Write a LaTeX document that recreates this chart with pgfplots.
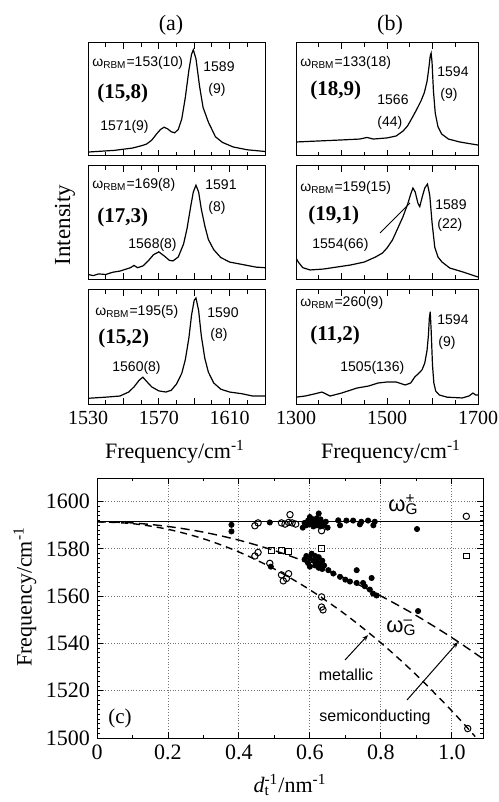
\documentclass[border=0pt]{standalone}
\usepackage{pgfplots}
\pgfplotsset{compat=1.18}
\usepackage{fontspec}
\setmainfont{Liberation Serif}
\newfontfamily\sans{Liberation Sans}
\usetikzlibrary{arrows.meta}
\newcommand\an{\sans\fontsize{7}{8}\selectfont}
\newcommand\ch{\fontsize{10.5}{12}\selectfont\bfseries}
\pgfplotsset{
  spec/.style={scale only axis, anchor=south west, ymin=0, ymax=1, ytick=\empty,
    tick align=inside, xtick pos=both, major tick length=3pt, minor tick length=1.8pt,
    axis line style={line width=0.5pt}, every tick/.style={black, line width=0.5pt},
    tick label style={font=\fontsize{10}{12}\selectfont}, clip=true},
  sa/.style={spec, xmin=1530, xmax=1630, width=88.5pt, xtick={1530,1550,1570,1590,1610,1630}, minor x tick num=1},
  sb/.style={spec, xmin=1300, xmax=1700, width=91pt, xtick={1300,1400,1500,1600,1700}, minor x tick num=1},
  sp/.style={black, line width=0.6pt}
}
\begin{document}
\begin{tikzpicture}
\useasboundingbox (0,0) rectangle (249pt,-401pt);
% ---------- panel (a) ----------
\begin{axis}[sa, at={(44pt,-78pt)}, height=56.5pt, xticklabels={,,,,,}]
\addplot[sp] coordinates {(1530,0.035)(1535,0.04)(1540,0.045)(1545,0.05)(1550,0.06)(1555,0.07)(1560,0.09)(1563,0.105)(1566,0.14)(1569,0.2)(1571,0.235)(1573,0.255)(1575,0.24)(1577,0.215)(1579,0.205)(1581,0.235)(1583,0.33)(1585,0.52)(1587,0.76)(1588.5,0.9)(1589.5,0.94)(1591,0.86)(1593,0.62)(1595,0.43)(1598,0.3)(1602,0.17)(1606,0.12)(1612,0.08)(1620,0.055)(1630,0.04)};
\end{axis}
\begin{axis}[sa, at={(44pt,-139.5pt)}, height=56.5pt, xticklabels={,,,,,}]
\addplot[sp] coordinates {(1530,0.04)(1533,0.03)(1536,0.045)(1540,0.04)(1544,0.06)(1548,0.07)(1551,0.085)(1554,0.1)(1556,0.12)(1558,0.1)(1561,0.115)(1564,0.16)(1567,0.215)(1570,0.24)(1573,0.205)(1576,0.165)(1578,0.16)(1581,0.195)(1584,0.31)(1586,0.45)(1588,0.64)(1589.5,0.77)(1591,0.83)(1592.5,0.77)(1594,0.62)(1596,0.47)(1598,0.35)(1601,0.26)(1605,0.19)(1610,0.15)(1615,0.135)(1620,0.12)(1625,0.105)(1630,0.1)};
\end{axis}
\begin{axis}[sa, at={(44pt,-202pt)}, height=57pt, xticklabels={1530,,1570,,1610,}]
\addplot[sp] coordinates {(1530,0.05)(1535,0.055)(1540,0.06)(1544,0.065)(1548,0.07)(1553,0.105)(1556,0.15)(1559,0.21)(1561,0.235)(1563,0.2)(1566,0.15)(1570,0.115)(1574,0.105)(1577,0.12)(1580,0.175)(1583,0.27)(1585,0.39)(1587,0.58)(1588.5,0.78)(1590,0.91)(1591,0.93)(1592.5,0.82)(1594,0.6)(1596,0.4)(1598,0.28)(1601,0.185)(1605,0.13)(1610,0.105)(1617,0.09)(1623,0.07)(1630,0.07)};
\end{axis}
% ---------- panel (b) ----------
\begin{axis}[sb, at={(148pt,-78pt)}, height=56.5pt, xticklabels={,,,,}]
\addplot[sp] coordinates {(1300,0.124)(1350,0.133)(1400,0.142)(1440,0.15)(1456,0.164)(1470,0.15)(1500,0.16)(1520,0.177)(1535,0.22)(1545,0.265)(1555,0.336)(1565,0.41)(1575,0.49)(1582,0.56)(1588,0.66)(1592,0.78)(1595,0.885)(1597,0.91)(1599,0.83)(1602,0.58)(1606,0.38)(1612,0.26)(1620,0.195)(1635,0.15)(1660,0.124)(1700,0.097)};
\end{axis}
\begin{axis}[sb, at={(148pt,-139.5pt)}, height=56.5pt, xticklabels={,,,,}]
\addplot[sp] coordinates {(1300,0.186)(1305,0.15)(1315,0.1)(1331,0.08)(1360,0.088)(1390,0.106)(1420,0.124)(1450,0.15)(1475,0.195)(1490,0.23)(1500,0.274)(1512,0.345)(1522,0.434)(1535,0.55)(1546,0.67)(1552,0.75)(1557,0.805)(1562,0.77)(1568,0.67)(1572,0.64)(1577,0.72)(1583,0.805)(1589,0.84)(1594,0.74)(1599,0.5)(1605,0.28)(1612,0.195)(1621,0.15)(1638,0.097)(1667,0.062)(1700,0.018)};
\end{axis}
\begin{axis}[sb, at={(148pt,-202pt)}, height=57pt, xticklabels={1300,,1500,,1700}]
\addplot[sp] coordinates {(1300,0.06)(1320,0.07)(1340,0.088)(1357,0.105)(1375,0.07)(1400,0.096)(1434,0.14)(1460,0.158)(1480,0.184)(1500,0.193)(1520,0.193)(1540,0.167)(1552,0.184)(1561,0.237)(1570,0.27)(1577,0.3)(1583,0.36)(1588,0.47)(1591,0.6)(1593,0.75)(1595,0.81)(1597,0.65)(1600,0.34)(1603,0.184)(1607,0.114)(1615,0.079)(1632,0.06)(1665,0.053)(1680,0.07)(1689,0.096)(1695,0.079)(1700,0.079)};
\end{axis}
% ---------- panel (c) ----------
\begin{axis}[scale only axis, anchor=south west, at={(48.5pt,-369pt)}, width=193pt, height=130pt,
  xmin=0, xmax=1.088, ymin=1500, ymax=1610,
  xtick={0,0.2,0.4,0.6,0.8,1.0}, xticklabels={0,0.2,0.4,0.6,0.8,1.0},
  ytick={1500,1520,1540,1560,1580,1600}, yticklabels={1500,1520,1540,1560,1580,1600},
  minor x tick num=1, minor y tick num=9, grid=major,
  grid style={densely dotted, black!55, line width=0.45pt},
  tick align=inside, xtick pos=both, ytick pos=both, major tick length=3pt, minor tick length=1.5pt,
  axis line style={line width=0.5pt}, every tick/.style={black, line width=0.45pt},
  tick label style={font=\fontsize{11}{13}\selectfont}, clip=true]
\addplot[black, line width=0.7pt] coordinates {(0,1591.5)(1.088,1591.5)};
\addplot[black, line width=0.7pt, dash pattern=on 4.5pt off 2.5pt, smooth] coordinates {(0,1591.5)(0.1,1591.0)(0.2,1589.5)(0.3,1587.1)(0.4,1583.7)(0.5,1579.3)(0.6,1573.9)(0.7,1567.5)(0.8,1560.1)(0.9,1551.8)(1.0,1542.5)(1.088,1533.5)};
\addplot[black, line width=0.7pt, dash pattern=on 3.5pt off 2.5pt, smooth] coordinates {(0,1591.5)(0.1,1590.7)(0.2,1588.3)(0.3,1584.3)(0.4,1578.7)(0.5,1571.5)(0.6,1562.7)(0.7,1552.3)(0.8,1540.3)(0.9,1526.7)(1.0,1511.5)(1.066,1500.6)};
\addplot[only marks, mark=*, mark size=1.3pt, black] coordinates {(0.379,1590.2)(0.379,1587.4)(0.487,1591.2)(0.49,1572.5)
(0.585,1591)(0.59,1590)(0.595,1592)(0.60,1590.5)(0.605,1591.5)(0.61,1589.5)(0.61,1592.5)(0.615,1591)(0.62,1593)(0.62,1590)(0.625,1595)(0.625,1591.5)(0.63,1589.5)(0.63,1592.5)(0.635,1591)(0.64,1590)(0.645,1591.5)(0.65,1589)(0.60,1593.5)(0.58,1589)
(0.68,1592.1)(0.685,1590)(0.703,1592)(0.722,1592)(0.741,1590.4)(0.745,1591.5)(0.764,1592)(0.779,1590)(0.783,1591.5)(0.902,1588.4)
(0.585,1575.5)(0.59,1577)(0.595,1574)(0.60,1576)(0.60,1572.5)(0.605,1578)(0.61,1575)(0.615,1573)(0.615,1577)(0.62,1574.5)(0.625,1576.5)(0.625,1572)(0.63,1574)(0.635,1571.5)(0.635,1575)(0.64,1573)
(0.652,1571)(0.666,1569.6)(0.685,1568.2)(0.70,1567)(0.713,1566.2)(0.732,1571)(0.732,1565.6)(0.75,1565.6)(0.755,1564.2)(0.774,1567.7)(0.769,1562.8)(0.778,1561.1)(0.788,1560.3)(0.905,1553.7)};
\addplot[only marks, mark=o, mark size=1.6pt, black, mark options={line width=0.5pt}] coordinates {(0.445,1589.8)(0.454,1591)(0.52,1591)(0.53,1590.5)(0.54,1591.2)(0.544,1594.5)(0.55,1591)(0.56,1590.5)(0.633,1587.7)(1.041,1593.8)
(0.445,1577)(0.454,1578.5)(0.487,1573.9)(0.52,1569)(0.534,1567.5)(0.525,1566.5)(0.54,1569.5)(0.633,1559.7)(0.633,1555.4)(0.637,1554.2)(1.045,1504)};
\addplot[only marks, mark=square, mark size=1.4pt, black, mark options={line width=0.5pt}] coordinates {(0.492,1579.3)(0.52,1579.3)(0.54,1579)(0.633,1580.2)(1.041,1577)};
\end{axis}
% ---------- annotations (image pixel coordinates) ----------
\begin{scope}[x=0.5pt, y=-0.5pt]
\node[font=\fontsize{11}{13}\selectfont] at (171,25) {(a)};
\node[font=\fontsize{11}{13}\selectfont] at (390,25) {(b)};
\node[font=\fontsize{11.5}{13}\selectfont, rotate=90] at (65,225) {Intensity};
\node[font=\fontsize{11}{13}\selectfont] at (175,452) {Frequency/cm\textsuperscript{-1}};
\node[font=\fontsize{11}{13}\selectfont] at (391,452) {Frequency/cm\textsuperscript{-1}};
% a1
\node[anchor=west, inner sep=0] at (92,63) {\an ω\textsubscript{RBM}=153(10)};
\node[anchor=west, inner sep=0] at (97,93) {\ch (15,8)};
\node[anchor=west, inner sep=0] at (100,127) {\an 1571(9)};
\node[anchor=west, inner sep=0] at (203,67) {\an 1589};
\node[anchor=west, inner sep=0] at (208,90) {\an (9)};
% a2
\node[anchor=west, inner sep=0] at (92,185) {\an ω\textsubscript{RBM}=169(8)};
\node[anchor=west, inner sep=0] at (97,217) {\ch (17,3)};
\node[anchor=west, inner sep=0] at (128,245) {\an 1568(8)};
\node[anchor=west, inner sep=0] at (205,185) {\an 1591};
\node[anchor=west, inner sep=0] at (208,208) {\an (8)};
% a3
\node[anchor=west, inner sep=0] at (95,312) {\an ω\textsubscript{RBM}=195(5)};
\node[anchor=west, inner sep=0] at (98,338) {\ch (15,2)};
\node[anchor=west, inner sep=0] at (112,368) {\an 1560(8)};
\node[anchor=west, inner sep=0] at (207,313) {\an 1590};
\node[anchor=west, inner sep=0] at (210,335) {\an (8)};
% b1
\node[anchor=west, inner sep=0] at (300,63) {\an ω\textsubscript{RBM}=133(18)};
\node[anchor=west, inner sep=0] at (310,90) {\ch (18,9)};
\node[anchor=west, inner sep=0] at (377,100) {\an 1566};
\node[anchor=west, inner sep=0] at (377,123) {\an (44)};
\node[anchor=west, inner sep=0] at (437,72) {\an 1594};
\node[anchor=west, inner sep=0] at (440,95) {\an (9)};
% b2
\node[anchor=west, inner sep=0] at (300,188) {\an ω\textsubscript{RBM}=159(15)};
\node[anchor=west, inner sep=0] at (308,215) {\ch (19,1)};
\node[anchor=west, inner sep=0] at (312,245) {\an 1554(66)};
\node[anchor=west, inner sep=0] at (435,205) {\an 1589};
\node[anchor=west, inner sep=0] at (437,225) {\an (22)};
\draw[line width=0.5pt] (380,233) -- (410,203);
% b3
\node[anchor=west, inner sep=0] at (300,303) {\an ω\textsubscript{RBM}=260(9)};
\node[anchor=west, inner sep=0] at (310,335) {\ch (11,2)};
\node[anchor=west, inner sep=0] at (340,368) {\an 1505(136)};
\node[anchor=west, inner sep=0] at (437,320) {\an 1594};
\node[anchor=west, inner sep=0] at (438,343) {\an (9)};
% c
\node[font=\fontsize{11}{13}\selectfont, rotate=90] at (25,597) {Frequency/cm\textsuperscript{-1}};
\node[font=\fontsize{11}{13}\selectfont] at (290,785) {\textit{d}\rlap{\textsubscript{t}}\textsuperscript{-1}/nm\textsuperscript{-1}};
\node[font=\fontsize{10.5}{12}\selectfont] at (120,718) {(c)};
\node[anchor=west, inner sep=0, font=\sans\fontsize{11}{13}\selectfont] at (388,505) {ω\rlap{\textsubscript{G}}\textsuperscript{+}};
\node[anchor=west, inner sep=0, font=\sans\fontsize{11}{13}\selectfont] at (386,628) {ω\rlap{\textsubscript{G}}\textsuperscript{–}};
\node[font=\sans\fontsize{8}{10}\selectfont] at (346,675) {metallic};
\node[font=\sans\fontsize{8}{10}\selectfont] at (375,717) {semiconducting};
\draw[-{Stealth[length=3pt]}, line width=0.5pt] (345,660) -- (368,635);
\draw[-{Stealth[length=3pt]}, line width=0.5pt] (407,700) -- (458,642);
\end{scope}
\end{tikzpicture}
\end{document}
